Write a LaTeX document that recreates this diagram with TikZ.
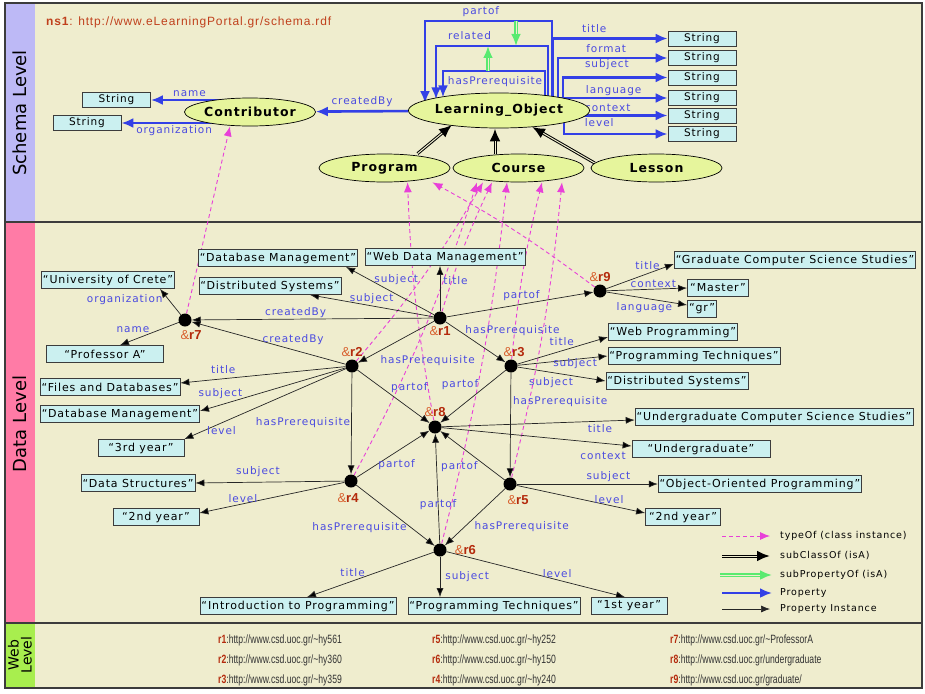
\documentclass[tikz,border=0pt]{standalone}
\usepackage{fontspec}
\setmainfont{DejaVu Sans}
\newfontfamily\lblfont{DejaVu Sans}[LetterSpace=9]
\newfontfamily\clsfont{DejaVu Sans}[LetterSpace=8]
\newfontfamily\urlfont{Liberation Sans}[FakeStretch=0.72]
\newfontfamily\nsfont{Liberation Sans}
\newfontfamily\nswide{Liberation Sans}[LetterSpace=7]
\usetikzlibrary{shapes.geometric,arrows.meta}

\definecolor{paper}{HTML}{EFEDCE}
\definecolor{schemaband}{HTML}{BDB9F6}
\definecolor{databand}{HTML}{FF7BA6}
\definecolor{webband}{HTML}{A8EE4E}
\definecolor{clsfill}{HTML}{E6F59C}
\definecolor{litfill}{HTML}{CBF0F0}
\definecolor{propblue}{HTML}{3340E6}
\definecolor{lblblue}{HTML}{4A4AE0}
\definecolor{typepink}{HTML}{E840D8}
\definecolor{subgreen}{HTML}{5AEA70}
\definecolor{ridred}{HTML}{B42A0C}
\definecolor{ampred}{HTML}{D8602E}
\definecolor{nsred}{HTML}{C0401C}
\definecolor{frame}{HTML}{3C3C3C}

\pgfdeclarelayer{bg}
\pgfdeclarelayer{links}
\pgfsetlayers{bg,links,main}

% resource label: &rN
\newcommand{\rid}[1]{{\color{ampred}\&}{\color{ridred}\bfseries r#1}}
% web level entry
\newcommand{\webref}[2]{{\color{ridred}\bfseries r#1}:http://www.csd.uoc.gr/#2}

\begin{document}
\begin{tikzpicture}[x=1pt, y=-1pt, font=\lblfont\fontsize{10.5}{12}\selectfont]
\tikzstyle{cls}=[ellipse, draw=black, line width=.7pt, fill=clsfill, minimum width=131pt, minimum height=28pt, inner sep=0pt, font=\clsfont\fontsize{12.5}{14}\selectfont\bfseries]
\tikzstyle{strbox}=[rectangle, draw=frame, line width=.8pt, fill=litfill, minimum width=68pt, minimum height=15pt, inner sep=0pt, font=\clsfont\fontsize{10.5}{12}\selectfont]
\tikzstyle{lit}=[rectangle, draw=frame, line width=.8pt, fill=litfill, minimum height=17pt, inner sep=1.5pt, font=\clsfont\fontsize{11}{13}\selectfont]
\tikzstyle{res}=[circle, fill=black, minimum size=13pt, inner sep=0pt]
\tikzstyle{rlab}=[font=\nsfont\fontsize{13}{15}\selectfont, inner sep=0pt]
\tikzstyle{lbl}=[text=lblblue, inner sep=1pt]
\tikzstyle{prop}=[draw=propblue, line width=2.6pt, -{Latex[length=12pt,width=10pt]}]
\tikzstyle{pinst}=[draw=black!85, line width=.7pt, -{Latex[length=9pt,width=7pt]}]
\tikzstyle{typeof}=[draw=typepink, line width=.9pt, dash pattern=on 4pt off 3pt, -{Latex[length=10pt,width=8pt]}]
\tikzstyle{subcls}=[draw=black, line width=3pt, -{Latex[length=13pt,width=11pt]}, postaction={draw=paper, line width=1pt, -, shorten >=13pt}]
\tikzstyle{subprop}=[draw=subgreen, line width=3.2pt, -{Latex[length=12pt,width=10pt]}, postaction={draw=paper, line width=.9pt, -, shorten >=12pt}]
\tikzstyle{legtxt}=[anchor=west, inner sep=0pt, font=\lblfont\fontsize{9.5}{11}\selectfont]
\tikzstyle{webtxt}=[anchor=west, inner sep=0pt, text=black!80, font=\urlfont\fontsize{12}{14}\selectfont]

\useasboundingbox (0,0) rectangle (925,693);

% panels
\begin{pgfonlayer}{bg}
\fill[paper] (5,3) rectangle (922,688);
\fill[schemaband] (5,3) rectangle (35,222);
\fill[databand] (5,222) rectangle (35,623);
\fill[webband] (5,623) rectangle (35,688);
\draw[frame, line width=1.2pt] (5,3) rectangle (922,688);
\draw[frame, line width=1.2pt] (5,222) -- (922,222);
\draw[frame, line width=1.2pt] (5,623) -- (922,623);
\end{pgfonlayer}

\node[rotate=90, font=\fontsize{18}{20}\selectfont] (schemalbl) at (20,113) {Schema Level};
\node[rotate=90, font=\fontsize{18}{20}\selectfont] (datalbl) at (20,424) {Data Level};
\node[rotate=90, align=center, font=\fontsize{14}{13}\selectfont] (weblbl) at (20,655) {Web\\Level};

\node[anchor=west, inner sep=0pt, text=nsred, font=\nswide\fontsize{12}{14}\selectfont] (ns) at (46,22)
  {\textbf{ns1}: http://www.eLearningPortal.gr/schema.rdf};

% schema level
\node[cls, minimum width=158pt, minimum height=35pt] (lo) at (499,110.5) {Learning\_Object};
\node[cls] (cont) at (250,112) {Contributor};
\node[cls] (prog) at (384.5,168) {Program};
\node[cls] (course) at (518.5,168) {Course};
\node[cls] (lesson) at (656.5,168) {Lesson};

\node[strbox] (sname) at (116.5,100) {String};
\node[strbox] (sorg) at (87,123) {String};
\node[strbox] (stitle) at (702,38.5) {String};
\node[strbox] (sformat) at (702,58) {String};
\node[strbox] (ssubject) at (702,77.5) {String};
\node[strbox] (slang) at (702,98) {String};
\node[strbox] (scontext) at (702,115.5) {String};
\node[strbox] (slevel) at (702,134) {String};

\coordinate (poL) at (425,21);
\coordinate (reL) at (436,46);
\coordinate (hpL) at (443,71);
\coordinate (spA) at (488,71);
\coordinate (spB) at (488,46);
\coordinate (spC) at (516,21);
\coordinate (spD) at (516,46);

% data level
\node[res, label={[rlab, label distance=2pt]below:\rid{1}}] (r1) at (440,318) {};
\node[res, label={[rlab, label distance=2pt]above:\rid{2}}] (r2) at (352,366) {};
\node[res, label={[rlab, label distance=2pt, xshift=3pt]above:\rid{3}}] (r3) at (511,366) {};
\node[res, label={[rlab, label distance=6pt, xshift=-3pt]below:\rid{4}}] (r4) at (351,481) {};
\node[res, label={[rlab, label distance=5pt, xshift=8pt]below:\rid{5}}] (r5) at (510,484) {};
\node[res, label={[rlab, label distance=8pt]right:\rid{6}}] (r6) at (440,550) {};
\node[res, label={[rlab, label distance=4pt, xshift=6pt]below:\rid{7}}] (r7) at (185,320) {};
\node[res, label={[rlab, label distance=3pt]above:\rid{8}}] (r8) at (435,427) {};
\node[res, label={[rlab, label distance=2pt]above:\rid{9}}] (r9) at (600,291) {};

\node[lit] (dbm1) at (278,258) {“Database Management”};
\node[lit] (wdm) at (445,257) {“Web Data Management”};
\node[lit] (ds1) at (270,286) {“Distributed Systems”};
\node[lit] (uc) at (108,280) {“University of Crete”};
\node[lit, minimum width=117pt] (pa) at (105,354) {“Professor A”};
\node[lit] (files) at (110,387) {“Files and Databases”};
\node[lit] (dbm2) at (120,414) {“Database Management”};
\node[lit, minimum width=86pt] (yr3) at (141,448) {“3rd year”};
\node[lit] (dstr) at (138,483) {“Data Structures”};
\node[lit, minimum width=86pt] (yr2a) at (156,517) {“2nd year”};
\node[lit] (intro) at (298,606) {“Introduction to Programming”};
\node[lit] (pt2) at (494,606) {“Programming Techniques”};
\node[lit, minimum width=76pt] (yr1) at (629,606) {“1st year”};
\node[lit] (gcs) at (795,260) {“Graduate Computer Science Studies”};
\node[lit, minimum width=61pt] (master) at (718,288) {“Master”};
\node[lit, minimum width=27pt] (gr) at (702,309) {“gr”};
\node[lit] (wp) at (673,332) {“Web Programming”};
\node[lit] (pt1) at (694,356) {“Programming Techniques”};
\node[lit] (ds2) at (677,381) {“Distributed Systems”};
\node[lit] (ucs) at (774,417) {“Undergraduate Computer Science Studies”};
\node[lit, minimum width=138pt] (ug) at (701,449) {“Undergraduate”};
\node[lit] (oop) at (760,484) {“Object-Oriented Programming”};
\node[lit, minimum width=75pt] (yr2b) at (683,517) {“2nd year”};

\begin{pgfonlayer}{links}
% properties of the schema
\draw[prop] (lo) -- node[lbl, pos=.5, above=2pt] {createdBy} (cont);
\draw[prop] (cont.center |- sname.east) -- node[lbl, pos=.61, above=1pt] {name} (sname.east);
\draw[prop] (cont.center |- sorg.east) -- node[lbl, pos=.59, below=0pt] {organization} (sorg.east);
\draw[prop] ([xshift=53pt]lo.center) |- node[lbl, pos=.78, above=2pt] {partof} (poL) -- (poL |- lo.175);
\draw[prop] ([xshift=49pt]lo.center) |- node[lbl, pos=.85, above=4pt] {related} (reL) -- (reL |- lo.171);
\draw[prop] ([xshift=46pt]lo.center) |- node[lbl, pos=.745, below=3pt] {hasPrerequisite} (hpL) -- (hpL |- lo.168);
\draw[prop] ([xshift=54pt]lo.center) |- node[lbl, pos=.68, above=4pt] {title} (stitle);
\draw[prop] ([xshift=59pt]lo.center) |- node[lbl, pos=.72, above=3pt] {format} (sformat);
\draw[prop] ([xshift=64pt]lo.center) |- node[lbl, pos=.71, above=6pt] {subject} (ssubject);
\draw[prop] (lo.center |- slang) -- node[lbl, pos=.68, above=0pt] {language} (slang);
\draw[prop] (lo.center |- scontext) -- node[lbl, pos=.645, above=2pt] {context} (scontext);
\draw[prop] ([xshift=65pt]lo.center) |- node[lbl, pos=.67, above=5pt] {level} (slevel);
\draw[subprop] (spA) -- (spB);
\draw[subprop] (spC) -- (spD);

% subclasses
\draw[subcls] ([xshift=33pt]prog.north) -- ([xshift=-47pt,yshift=3.5pt]lo.south);
\draw[subcls] ([xshift=-23.5pt]course.north) -- ([xshift=-4pt]lo.south);
\draw[subcls] ([xshift=4pt,yshift=5pt]lesson.west) -- ([xshift=33pt,yshift=1.5pt]lo.south);

% class instances
\draw[typeof] (r7) -- ([xshift=-20pt]cont.south);
\draw[typeof] (r8) to[bend left=4] ([xshift=23pt]prog.south);
\draw[typeof] (r9) to[bend right=4] ([xshift=48pt]prog.south);
\draw[typeof] (r4) to[bend right=5] ([xshift=-41.5pt]course.south);
\draw[typeof] (r2) to[bend right=5] ([xshift=-35.5pt]course.south);
\draw[typeof] (r1) to[bend left=4] ([xshift=-26.5pt]course.south);
\draw[typeof] (r6) to[bend right=4] ([xshift=-11.5pt]course.south);
\draw[typeof] (r3) to[bend left=4] ([xshift=23.5pt]course.south);
\draw[typeof] (r5) to[bend right=4] ([xshift=43.5pt]course.south);

% property instances
\path[pinst]
  (r1) edge node[lbl, pos=.43, above=8pt] {subject} ([xshift=-12pt]dbm1.south east)
  (r1) edge node[lbl, pos=.5, above=1pt] {subject} ([xshift=40pt]ds1.south)
  (r1) edge node[lbl, pos=.68, right=2pt] {title} (r1 |- wdm.south)
  (r1) edge node[lbl, pos=.57, above=0pt] {createdBy} (r7)
  (r1) edge node[lbl, pos=.51, above=2pt] {partof} (r9)
  (r1) edge node[lbl, pos=.31, anchor=west, yshift=4pt] {hasPrerequisite} (r3)
  (r1) edge node[lbl, pos=.72, anchor=west, yshift=-9pt] {hasPrerequisite} (r2)
  (r2) edge node[lbl, pos=.34, above=4pt] {createdBy} (r7)
  (r2) edge node[lbl, pos=.74, above=4pt] {title} ([yshift=4pt]files.east)
  (r2) edge node[lbl, pos=.86, above=5pt] {subject} ([yshift=3pt]dbm2.east)
  (r2) edge node[lbl, pos=.77, below=2pt] {level} (yr3.north east)
  (r2) edge node[lbl, pos=.49, left=0pt] {hasPrerequisite} (r4)
  (r2) edge node[lbl, pos=.45, anchor=south west] {partof} (r8)
  (r3) edge node[lbl, pos=.49, above=4pt] {title} ([yshift=-5pt]wp.west)
  (r3) edge node[lbl, pos=.64, below, yshift=2pt] {subject} (pt1.west)
  (r3) edge node[lbl, pos=.38, below=4pt] {subject} (ds2.west)
  (r3) edge node[lbl, pos=.28, right=1pt] {hasPrerequisite} (r5)
  (r3) edge node[lbl, pos=.4, anchor=south east] {partof} (r8)
  (r8) edge node[lbl, pos=.82, below=2pt] {title} ([yshift=-3pt]ucs.west)
  (r8) edge node[lbl, pos=.85, below=8pt] {context} ([yshift=3pt]ug.west)
  (r4) edge node[lbl, pos=.55, below=7pt] {partof} (r8)
  (r4) edge node[lbl, pos=.58, above=4pt] {subject} (dstr.east)
  (r4) edge node[lbl, pos=.7, above=0pt] {level} ([yshift=4pt]yr2a.east)
  (r4) edge node[lbl, pos=.66, anchor=east, yshift=-2pt] {hasPrerequisite} (r6)
  (r5) edge node[lbl, pos=.4, anchor=north east] {partof} (r8)
  (r5) edge node[lbl, pos=.65, above=1pt] {subject} (oop.west)
  (r5) edge node[lbl, pos=.72, above=0pt] {level} ([yshift=4pt]yr2b.west)
  (r5) edge node[lbl, pos=.53, anchor=west, yshift=-8pt] {hasPrerequisite} (r6)
  (r6) edge node[lbl, pos=.35] {partof} (r8)
  (r6) edge node[lbl, pos=.64, above=3pt] {title} ([xshift=9pt]intro.north)
  (r6) edge node[lbl, pos=.49, right=4pt] {subject} (r6 |- pt2.north)
  (r6) edge node[lbl, pos=.62, above=1pt] {level} ([xshift=-4pt]yr1.north)
  (r7) edge node[lbl, pos=.57, left=5pt] {organization} ([xshift=52pt]uc.south)
  (r7) edge node[lbl, pos=.78, above=6pt] {name} ([xshift=15pt]pa.north)
  (r9) edge node[lbl, pos=.61, above=3pt] {title} ([yshift=-4pt]gcs.west)
  (r9) edge node[lbl, pos=.58, above=0pt] {context} (master.west)
  (r9) edge node[lbl, pos=.47, below=3pt] {language} ([yshift=4pt]gr.west);
\end{pgfonlayer}

% legend
\coordinate (lgA1) at (722,536); \coordinate (lgA2) at (770,536);
\coordinate (lgB1) at (722,556); \coordinate (lgB2) at (770,556);
\coordinate (lgC1) at (720,575); \coordinate (lgC2) at (772,575);
\coordinate (lgD1) at (722,593); \coordinate (lgD2) at (772,593);
\coordinate (lgE1) at (722,609); \coordinate (lgE2) at (770,609);
\draw[typeof] (lgA1) -- (lgA2);
\draw[subcls] (lgB1) -- (lgB2);
\draw[subprop] (lgC1) -- (lgC2);
\draw[prop] (lgD1) -- (lgD2);
\draw[pinst] (lgE1) -- (lgE2);
\node[legtxt] (lgA) at (780,536) {typeOf (class instance)};
\node[legtxt] (lgB) at (780,556) {subClassOf (isA)};
\node[legtxt] (lgC) at (780,575) {subPropertyOf (isA)};
\node[legtxt] (lgD) at (780,593) {Property};
\node[legtxt] (lgE) at (780,609) {Property Instance};

% web level
\node[webtxt] (w1) at (218,640) {\webref{1}{\textasciitilde hy561}};
\node[webtxt] (w2) at (218,660) {\webref{2}{\textasciitilde hy360}};
\node[webtxt] (w3) at (218,680) {\webref{3}{\textasciitilde hy359}};
\node[webtxt] (w5) at (432,640) {\webref{5}{\textasciitilde hy252}};
\node[webtxt] (w6) at (432,660) {\webref{6}{\textasciitilde hy150}};
\node[webtxt] (w4) at (432,680) {\webref{4}{\textasciitilde hy240}};
\node[webtxt] (w7) at (670,640) {\webref{7}{\textasciitilde ProfessorA}};
\node[webtxt] (w8) at (670,660) {\webref{8}{undergraduate}};
\node[webtxt] (w9) at (670,680) {\webref{9}{graduate/}};
\end{tikzpicture}
\end{document}
